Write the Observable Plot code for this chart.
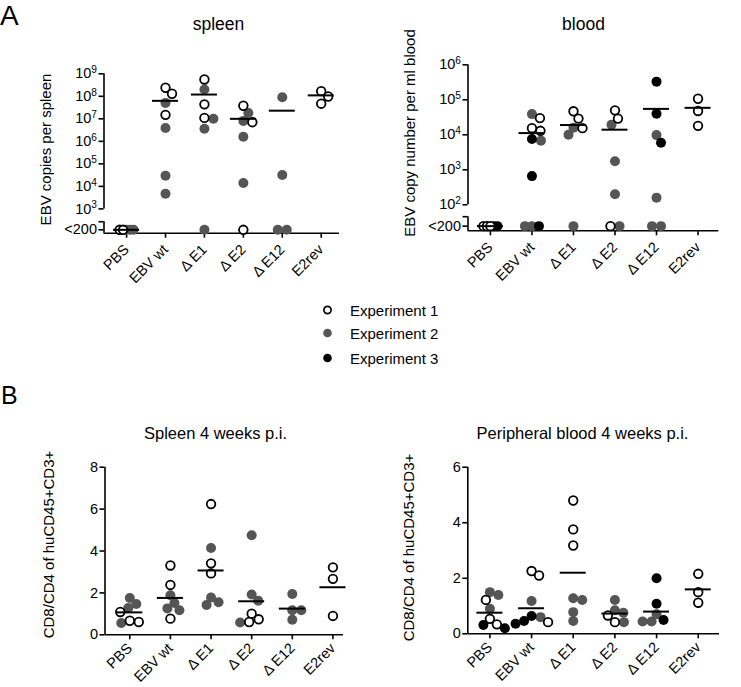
<!DOCTYPE html>
<html><head><meta charset="utf-8">
<script src="https://cdn.jsdelivr.net/npm/d3@7"></script>
<script src="https://cdn.jsdelivr.net/npm/@observablehq/plot@0.6"></script>
<style>
body{margin:0;background:#fff;}
#fig{position:relative;width:741px;height:687px;font-family:"Liberation Sans",Arial,Helvetica,sans-serif;color:#000;overflow:hidden;background:#fff}
.panel{position:absolute}
.letter{position:absolute;line-height:1}
.leg{position:absolute;font-size:15px;line-height:1;white-space:nowrap}
</style></head><body><div id="fig"></div>
<script>
const BLQ = "<200";
const categories = ["PBS", "EBV wt", "Δ E1", "Δ E2", "Δ E12", "E2rev"];
const experiments = ["Experiment 1", "Experiment 2", "Experiment 3"];

// A: EBV copies per spleen (per category)
const spleenExp1 = [[BLQ, BLQ], [2.4e8, 1.3e8, 1.5e7], [5.6e8, 4.4e7, 1.1e7], [3.8e7, 7.1e6, BLQ], [], [1.7e8, 9.8e7, 4.7e7]];
const spleenExp2 = [[BLQ, BLQ, BLQ], [5.1e7, 3.9e6, 3.0e4, 4.7e3], [2.0e8, 1.0e7, 3.6e6, BLQ], [1.8e7, 8.1e6, 1.6e6, 1.4e4], [9.1e7, 3.2e4, BLQ, BLQ], []];
const spleenExp3 = [[], [], [], [], [], []];
const spleenMedian = [BLQ, 6.3e7, 1.2e8, 1.0e7, 2.3e7, 1.1e8];

// A: EBV copy number per ml blood
const bloodExp1 = [[BLQ, BLQ, BLQ], [3.0e4, 1.55e4, 1.3e4], [4.7e4, 2.9e4, 1.55e4], [5.0e4, 2.9e4, BLQ], [], [1.07e5, 4.8e4, 1.8e4]];
const bloodExp2 = [[], [3.9e4, 6.8e3, BLQ, BLQ], [1.6e4, 1.0e4, BLQ], [1.95e4, 1.75e3, 200, BLQ], [9.8e3, 160, BLQ, BLQ], []];
const bloodExp3 = [[BLQ, BLQ], [7.6e3, 660, BLQ], [], [], [3.3e5, 4.0e4, 5.9e3], []];
const bloodMedian = [BLQ, 1.12e4, 1.9e4, 1.4e4, 5.5e4, 5.9e4];

// B: CD8/CD4 ratio, spleen 4 weeks p.i.
const ratioSpleenExp1 = [[1.09, 0.67, 0.61], [3.31, 2.38, 0.77], [6.24, 3.41, 2.93], [1.01, 0.74, 0.61], [], [3.22, 2.67, 0.90]];
const ratioSpleenExp2 = [[1.76, 1.47, 1.28, 0.56], [1.89, 1.52, 1.26, 1.17], [4.14, 1.78, 1.55, 1.42], [4.75, 1.92, 1.63, 0.59], [1.95, 1.17, 1.17, 0.72], []];
const ratioSpleenExp3 = [[], [], [], [], [], []];
const ratioSpleenMedian = [1.07, 1.76, 3.07, 1.60, 1.25, 2.27];

// B: CD8/CD4 ratio, peripheral blood 4 weeks p.i.
const ratioBloodExp1 = [[1.22, 0.54, 0.34], [2.26, 2.10, 0.42], [4.80, 3.76, 3.18], [0.66, 0.42], [], [2.16, 1.50, 1.12]];
const ratioBloodExp2 = [[1.50, 1.40, 0.90], [1.18, 0.60], [1.28, 1.22, 0.78, 0.46], [1.22, 0.85, 0.76, 0.42], [0.70, 0.44, 0.44], []];
const ratioBloodExp3 = [[0.32, 0.20], [0.64, 0.46, 0.36], [], [], [2.00, 1.08, 0.50], []];
const ratioBloodMedian = [0.76, 0.92, 2.20, 0.73, 0.80, 1.60];

const expFill = ["#ffffff", "#555555", "#000000"];
const FONT = '"Liberation Sans", Arial, Helvetica, sans-serif';
const fig = document.getElementById("fig");

function makePanel(cfg) {
  const {width, height, mt, mb, ml, mr, xDomain, yDomain, log, floorY} = cfg;
  const pxY = (height - mt - mb) / (yDomain[1] - yDomain[0]);
  const pxX = (width - ml - mr) / (xDomain[1] - xDomain[0]);
  const toY = v => v === BLQ ? floorY : (log ? Math.log10(v) : v);
  const pts = [];
  cfg.series.forEach((byCat, e) => byCat.forEach((vals, c) => vals.forEach(v => pts.push({c, e, y: toY(v), off: 0}))));
  // simple beeswarm layout per category
  const minD = 8.7;
  categories.forEach((_, c) => {
    const g = pts.filter(p => p.c === c);
    const fl = g.filter(p => log && p.y === floorY);
    const sp = fl.length > 1 ? Math.min(9, 14 / (fl.length - 1)) : 0;
    fl.forEach((p, i) => p.off = (i - (fl.length - 1) / 2) * sp);
    const placed = fl.slice();
    g.filter(p => !fl.includes(p)).sort((a, b) => b.y - a.y).forEach(p => {
      for (let k = 0; k < 400; k++) {
        const off = (k % 2 ? 1 : -1) * Math.ceil(k / 2) * 0.5;
        const ok = placed.every(q => {
          const dx = off - q.off, dy = (p.y - q.y) * pxY;
          return dx * dx + dy * dy >= minD * minD;
        });
        if (ok) { p.off = off; break; }
      }
      placed.push(p);
    });
  });
  pts.forEach(p => p.x = p.c + p.off / pxX);
  const med = cfg.median.map((m, c) => ({c, y: toY(m)}));
  const half = 13 / pxX;
  const x0 = xDomain[0];

  const marks = [
    Plot.ruleY([yDomain[0]], {x1: xDomain[0], x2: xDomain[1], strokeWidth: 1.6}),
    ...cfg.segments.map(([a, b]) => Plot.ruleX([x0], {y1: a, y2: b, strokeWidth: 1.6})),
    Plot.axisY({ticks: cfg.yTicks, tickFormat: cfg.yFormat, tickSize: 5, tickPadding: 2, strokeWidth: 1.6, fontSize: 14.5, label: null}),
    Plot.axisX({ticks: d3.range(categories.length), tickFormat: i => categories[i], tickRotate: -45, tickSize: 5, tickPadding: cfg.xPad, strokeWidth: 1.6, fontSize: 14.5, label: null}),
    ...[1, 2, 0].map(e => Plot.dot(pts.filter(p => p.e === e), {
      x: "x", y: "y",
      r: e === 0 ? 4.3 : 5,
      fill: expFill[e],
      stroke: e === 0 ? "#000" : "none",
      strokeWidth: 1.8
    })),
    Plot.ruleY(med, {x1: d => d.c - half, x2: d => d.c + half, y: "y", strokeWidth: 2}),
    Plot.text([cfg.title], {frameAnchor: "top-left", dx: cfg.titlePos[0] - ml, dy: cfg.titlePos[1] - mt,
      textAnchor: "middle", lineAnchor: "bottom", fontSize: cfg.titleSize}),
    Plot.text([cfg.yLabel], {frameAnchor: "top-left", dx: cfg.labelPos[0] - ml, dy: cfg.labelPos[1] - mt,
      rotate: -90, textAnchor: "middle", lineAnchor: "middle", fontSize: 15})
  ];
  if (cfg.cap != null) marks.push(Plot.ruleY([cfg.cap], {x1: x0 - 5 / pxX, x2: x0, strokeWidth: 1.6}));

  const svg = Plot.plot({
    width, height,
    marginTop: mt, marginBottom: mb, marginLeft: ml, marginRight: mr,
    x: {type: "linear", domain: xDomain, axis: null},
    y: {type: "linear", domain: yDomain, axis: null},
    style: {fontFamily: FONT, fontSize: "14.5px", color: "#000", background: "transparent", overflow: "visible"},
    marks
  });
  // superscript exponents on log tick labels
  d3.select(svg).selectAll("text").each(function () {
    const m = /^10\^(\d+)$/.exec(this.textContent);
    if (m) {
      const t = d3.select(this);
      t.text(null);
      t.append("tspan").text("10");
      t.append("tspan").attr("dy", "-0.5em").attr("font-size", "0.7em").text(m[1]);
    }
  });
  const div = document.createElement("div");
  div.className = "panel";
  div.style.left = cfg.left + "px";
  div.style.top = cfg.top + "px";
  div.appendChild(svg);
  fig.appendChild(div);
}

const spleenFloor = 2.07, bloodFloor = 1.39;

makePanel({
  left: 0, top: 0, width: 370, height: 300, ml: 103.5, mr: 31, mt: 73.3, mb: 67.3, xPad: 9,
  xDomain: [-0.58, 5.47], yDomain: [1.92, 9], log: true, floorY: spleenFloor, cap: 2.43,
  segments: [[3, 9], [1.92, 2.43]],
  yTicks: [spleenFloor, 3, 4, 5, 6, 7, 8, 9],
  yFormat: d => d === spleenFloor ? BLQ : `10^${d}`,
  series: [spleenExp1, spleenExp2, spleenExp3], median: spleenMedian,
  title: "spleen", titlePos: [218, 29], titleSize: 17.5,
  yLabel: "EBV copies per spleen", labelPos: [46, 149]
});
makePanel({
  left: 370, top: 0, width: 371, height: 300, ml: 97.5, mr: 22.7, mt: 64.3, mb: 69.7, xPad: 9,
  xDomain: [-0.54, 5.5], yDomain: [1.257, 6], log: true, floorY: bloodFloor, cap: 1.66,
  segments: [[2, 6], [1.257, 1.66]],
  yTicks: [bloodFloor, 2, 3, 4, 5, 6],
  yFormat: d => d === bloodFloor ? BLQ : `10^${d}`,
  series: [bloodExp1, bloodExp2, bloodExp3], median: bloodMedian,
  title: "blood", titlePos: [213, 29], titleSize: 17.5,
  yLabel: "EBV copy number per ml blood", labelPos: [40, 132.5]
});
makePanel({
  left: 0, top: 400, width: 370, height: 287, ml: 104.5, mr: 27, mt: 66.7, mb: 52.7, xPad: 6,
  xDomain: [-0.61, 5.26], yDomain: [0, 8], log: false,
  segments: [[0, 8]],
  yTicks: [0, 2, 4, 6, 8], yFormat: d => String(d),
  series: [ratioSpleenExp1, ratioSpleenExp2, ratioSpleenExp3], median: ratioSpleenMedian,
  title: "Spleen 4 weeks p.i.", titlePos: [215, 38.3], titleSize: 16.5,
  yLabel: "CD8/CD4 of huCD45+CD3+", labelPos: [49, 144]
});
makePanel({
  left: 370, top: 400, width: 371, height: 287, ml: 97.3, mr: 22, mt: 66.7, mb: 53.7, xPad: 6,
  xDomain: [-0.53, 5.51], yDomain: [0, 6], log: false,
  segments: [[0, 6]],
  yTicks: [0, 2, 4, 6], yFormat: d => String(d),
  series: [ratioBloodExp1, ratioBloodExp2, ratioBloodExp3], median: ratioBloodMedian,
  title: "Peripheral blood 4 weeks p.i.", titlePos: [212, 38.3], titleSize: 16.5,
  yLabel: "CD8/CD4 of huCD45+CD3+", labelPos: [39, 147]
});

// panel letters
[["A", 0, 2, 28], ["B", 1, 383, 25]].forEach(([t, x, y, s]) => {
  const d = document.createElement("div");
  d.className = "letter";
  d.style.left = x + "px"; d.style.top = y + "px"; d.style.fontSize = s + "px";
  d.textContent = t;
  fig.appendChild(d);
});

// legend
const legendY = [310, 333.3, 358.3];
experiments.forEach((name, e) => {
  const d = document.createElement("div");
  d.className = "leg";
  d.style.left = "322px";
  d.style.top = (legendY[e] - 8) + "px";
  d.innerHTML = `<svg width="11" height="16" style="vertical-align:top"><circle cx="5.5" cy="8" r="${e === 0 ? 3.6 : 4.3}" fill="${expFill[e]}" stroke="${e === 0 ? "#000" : "none"}" stroke-width="1.7"/></svg><span style="position:absolute;left:28px;top:1px">${name}</span>`;
  fig.appendChild(d);
});
</script>
</body></html>
